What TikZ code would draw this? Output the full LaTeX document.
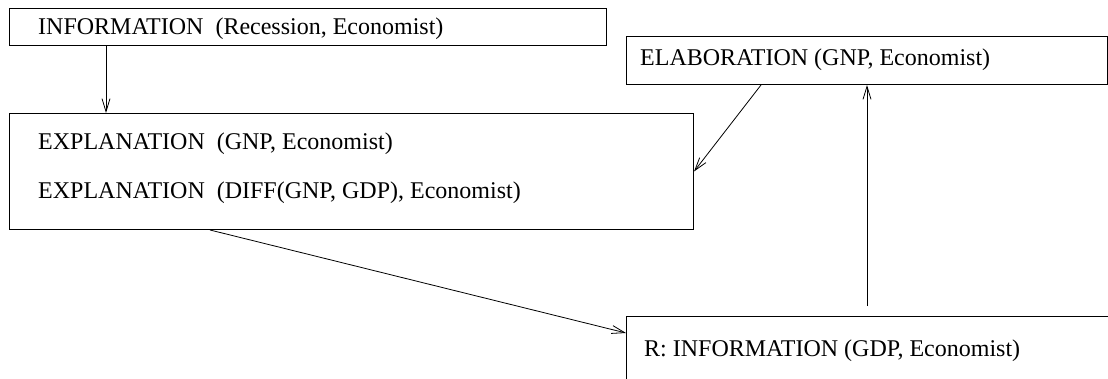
\documentclass[tikz,border=0pt]{standalone}
\usepackage{fontspec}
\setmainfont{Liberation Serif}
\usetikzlibrary{arrows.meta}
\begin{document}
\begin{tikzpicture}[x=1pt,y=-1pt,
  box/.style={draw, line width=1pt, rectangle, inner sep=0pt, anchor=north west},
  lbl/.style={anchor=base west, inner sep=0pt, font=\fontsize{24}{28}\selectfont},
  conn/.style={draw, line width=0.8pt, -{Straight Barb[length=13pt,width=8pt]}}]
\useasboundingbox (0,0) rectangle (1108,379);
\clip (0,0) rectangle (1108,379);
\node[box, minimum width=597pt, minimum height=37pt] (info) at (9,8) {};
\node[box, minimum width=684pt, minimum height=116pt] (expl) at (9,113) {};
\node[box, minimum width=481pt, minimum height=48pt] (elab) at (626,36) {};
\node[box, minimum width=520pt, minimum height=100pt] (R) at (626,316) {};
\node[lbl] (infot) at (38,35) {INFORMATION~~(Recession, Economist)};
\node[lbl] (expt1) at (38,150) {EXPLANATION~~(GNP, Economist)};
\node[lbl] (expt2) at (38,199) {EXPLANATION~~(DIFF(GNP, GDP), Economist)};
\node[lbl] (elabt) at (640,66) {ELABORATION (GNP, Economist)};
\node[lbl] (rt) at (644,356) {R: INFORMATION (GDP, Economist)};
\draw[conn] ([xshift=97pt]info.south west) -- ([xshift=97pt]expl.north west);
\draw[conn] ([xshift=135pt]elab.south west) -- (expl.east);
\draw[conn] ([xshift=201pt]expl.south west) -- ([yshift=-17pt]R.north west);
\draw[conn] ([xshift=241pt,yshift=10pt]R.north west) -- ([xshift=241pt]elab.south west);
\end{tikzpicture}
\end{document}
